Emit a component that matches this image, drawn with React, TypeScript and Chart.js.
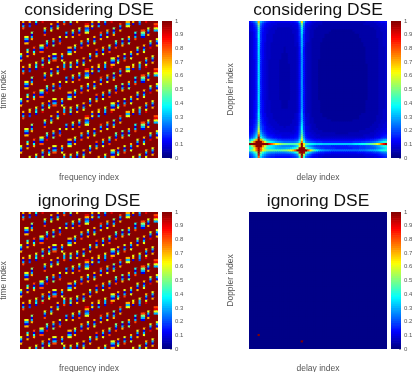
import React, { useEffect, useRef } from "react";
import { Chart, registerables } from "chart.js";

Chart.register(...registerables);

const GRID_SIZE = 64;

// Pilot stripes of the time/frequency grids: [column, first row, tenths read top to bottom].
const stripes: [number, number, string][] = [
  [1, 21, "7138"], [4, 20, "6712"], [7, 19, "6341"], [10, 17, "73159"], [14, 1, "7136"], [17, 21, "7136"], [20, 19, "6338"],
  [11, 3, "6318"], [5, 5, "5137"], [2, 7, "6317"], [3, 7, "6317"], [12, 9, "5319"], [15, 8, "7315"], [18, 7, "6128"], [21, 5, "316"],
  [9, 11, "6318"], [10, 11, "6318"], [6, 12, "8147"], [3, 13, "4617"], [0, 15, "6317"], [15, 15, "6138"], [16, 15, "6138"], [19, 15, "7316"], [13, 16, "7136"],
  [24, 4, "6317"], [27, 3, "6318"], [31, 8, "6317"], [34, 7, "7136"], [37, 5, "8317"], [40, 4, "7316"], [43, 3, "5137"], [28, 9, "7318"],
  [25, 11, "6317"], [22, 12, "7136"], [23, 12, "7136"], [32, 15, "6317"], [35, 13, "8137"], [38, 12, "7316"], [41, 11, "6318"], [29, 17, "7136"],
  [26, 18, "6317"], [23, 19, "6351"], [42, 17, "63179"], [43, 17, "6317"], [39, 19, "6331"], [36, 20, "7613"], [33, 21, "7261"], [30, 1, "97236"], [31, 1, "97236"],
  [49, 21, "736"], [50, 21, "736"], [46, 1, "8317"], [52, 20, "671"], [55, 19, "6332"], [58, 17, "73169"], [62, 1, "8963"], [63, 1, "8963"],
  [47, 8, "5137"], [50, 7, "7315"], [53, 5, "4138"], [56, 4, "8531"], [57, 4, "8531"], [59, 3, "6317"], [44, 9, "5318"], [63, 8, "6317"],
  [60, 9, "6319"], [57, 11, "7136"], [54, 12, "6317"], [51, 14, "7316"], [48, 15, "6138"], [45, 16, "7136"], [61, 16, "6317"],
];
// The stripe pattern recurs down the grid at these row offsets.
const stripeRowOffsets = [-21, 0, 21, 43];

// Line profiles of the two crosses in the delay/Doppler map (value along each line).
const crossPeakA = 6;
const crossPeakB = 4.5;
const delayProfileA = [
  0.95, 1.2, 1.7, 2.4, 6, 2.4, 1.7, 1.3, 0.95, 0.82, 0.74, 0.66, 0.58, 0.52, 0.47, 0.43,
  0.4, 0.38, 0.36, 0.35, 0.34, 0.33, 0.32, 0.31, 0.3, 0.3, 0.3, 0.3, 0.29, 0.29, 0.29, 0.29,
  0.29, 0.29, 0.29, 0.29, 0.29, 0.29, 0.29, 0.29, 0.29, 0.29, 0.29, 0.29, 0.29, 0.29, 0.3, 0.3,
  0.31, 0.32, 0.33, 0.34, 0.35, 0.36, 0.38, 0.4, 0.43, 0.46, 0.5, 0.57, 0.65, 0.75, 0.85, 0.92,
];
const dopplerProfileA = [
  0.65, 0.5, 0.44, 0.4, 0.38, 0.37, 0.36, 0.36, 0.35, 0.35, 0.35, 0.35, 0.34, 0.34, 0.34, 0.34,
  0.34, 0.34, 0.33, 0.33, 0.33, 0.33, 0.33, 0.33, 0.33, 0.33, 0.33, 0.33, 0.33, 0.33, 0.33, 0.33,
  0.33, 0.33, 0.33, 0.33, 0.33, 0.34, 0.34, 0.34, 0.34, 0.35, 0.35, 0.36, 0.37, 0.38, 0.4, 0.42,
  0.44, 0.48, 0.52, 0.58, 0.66, 0.78, 0.95, 1.7, 2.6, 6, 2.4, 1.7, 1.3, 1.0, 0.85, 0.72,
];
const delayProfileB = [
  0.24, 0.24, 0.25, 0.25, 0.26, 0.26, 0.27, 0.28, 0.29, 0.3, 0.31, 0.32, 0.33, 0.34, 0.36, 0.38,
  0.4, 0.43, 0.47, 0.52, 0.6, 0.72, 0.95, 2.0, 4.5, 2.0, 0.95, 0.72, 0.58, 0.45, 0.36, 0.3,
  0.26, 0.23, 0.21, 0.2, 0.19, 0.18, 0.17, 0.17, 0.16, 0.16, 0.16, 0.16, 0.16, 0.16, 0.16, 0.16,
  0.16, 0.16, 0.16, 0.17, 0.17, 0.17, 0.18, 0.18, 0.19, 0.19, 0.2, 0.2, 0.21, 0.22, 0.22, 0.23,
];
const dopplerProfileB = [
  0.62, 0.46, 0.4, 0.36, 0.34, 0.33, 0.31, 0.3, 0.29, 0.29, 0.28, 0.28, 0.27, 0.27, 0.27, 0.26,
  0.26, 0.26, 0.26, 0.26, 0.25, 0.25, 0.25, 0.25, 0.25, 0.25, 0.25, 0.25, 0.25, 0.25, 0.25, 0.25,
  0.25, 0.25, 0.25, 0.25, 0.25, 0.26, 0.26, 0.26, 0.26, 0.27, 0.27, 0.28, 0.28, 0.29, 0.3, 0.31,
  0.33, 0.34, 0.36, 0.38, 0.4, 0.43, 0.47, 0.53, 0.62, 0.78, 1.05, 2.0, 4.5, 2.0, 1.15, 0.9,
];
// Isolated unit cells of the "ignoring" delay/Doppler map: [column, row].
const ignoringPeaks = [[4, 57], [24, 60]];

const colorbarTicks = [0, 0.1, 0.2, 0.3, 0.4, 0.5, 0.6, 0.7, 0.8, 0.9, 1];

const titles = ["considering DSE", "considering DSE", "ignoring DSE", "ignoring DSE"];
const xTitles = ["frequency index", "delay index", "frequency index", "delay index"];
const yTitles = ["time index", "Doppler index", "time index", "Doppler index"];

type Cell = { x: number; y: number; v: number };

function jet(v: number): string {
  const q = (Math.min(63, Math.floor(v * 64)) + 0.5) / 64;
  const ch = (c: number) => Math.round(255 * Math.max(0, Math.min(1, 1.5 - Math.abs(4 * q - c))));
  return `rgb(${ch(3)},${ch(2)},${ch(1)})`;
}

function cells(value: (col: number, row: number) => number): Cell[] {
  const out: Cell[] = [];
  for (let row = 0; row < GRID_SIZE; row++) {
    for (let col = 0; col < GRID_SIZE; col++) out.push({ x: col, y: row, v: value(col, row) });
  }
  return out;
}

function pilotCells(): Cell[] {
  const table = new Map<string, number>();
  for (const off of stripeRowOffsets) {
    for (const [col, row, tenths] of stripes) {
      [...tenths].forEach((d, i) => table.set(`${col},${row + off + i}`, Number(d) / 10));
    }
  }
  return cells((c, r) => table.get(`${c},${r}`) ?? 1);
}

function crossCells(): Cell[] {
  return cells((c, r) =>
    Math.min(1, (delayProfileA[c] * dopplerProfileA[r]) / crossPeakA + (delayProfileB[c] * dopplerProfileB[r]) / crossPeakB),
  );
}

function peakCells(): Cell[] {
  return cells((c, r) => (ignoringPeaks.some(([pc, pr]) => pc === c && pr === r) ? 1 : 0));
}

const FONT = "'Liberation Sans', Arial, sans-serif";
const PANEL_W = [178, 186];
const PANEL_X = [0, 225];
const PANEL_Y = [0, 191];
const PLOT_LEFT = [20, 24];
const BAR_X = [160, 389];
const CANVAS_H = 186;
// Overlapping square markers draw on top of each other, so the axes are nudged by the overlap.
const AXIS_MIN = -0.73;
const AXIS_MAX = 63.27;

function makeHeatmap(canvas: HTMLCanvasElement, idx: number, data: Cell[], colIdx: number): Chart {
  return new Chart(canvas, {
    type: "scatter",
    data: {
      datasets: [
        {
          data: data as any,
          pointStyle: "rect",
          pointRadius: 2.25,
          pointBorderWidth: 0,
          pointBackgroundColor: (ctx: any) => jet(ctx.raw.v),
        },
      ],
    },
    options: {
      animation: false,
      responsive: false,
      events: [],
      layout: { padding: { left: 0, right: PANEL_W[colIdx] - PLOT_LEFT[colIdx] - 138, top: 0, bottom: 0 } },
      plugins: {
        legend: { display: false },
        tooltip: { enabled: false },
        title: {
          display: true,
          fullSize: false,
          text: titles[idx],
          color: "#111",
          padding: 0,
          font: { family: FONT, size: 17.4, weight: "normal", lineHeight: 21 / 17.4 },
        },
      },
      scales: {
        x: {
          type: "linear",
          min: AXIS_MIN,
          max: AXIS_MAX,
          grid: { display: false },
          border: { display: false },
          ticks: { display: false },
          title: {
            display: true,
            text: xTitles[idx],
            color: "#555",
            padding: { top: 0, bottom: 3 },
            font: { family: FONT, size: 8.5 },
          },
          afterFit: (s: any) => {
            s.height = 28;
          },
        },
        y: {
          type: "linear",
          reverse: true,
          min: AXIS_MIN,
          max: AXIS_MAX,
          grid: { display: false },
          border: { display: false },
          ticks: { display: false },
          title: {
            display: true,
            text: yTitles[idx],
            color: "#555",
            padding: { top: colIdx === 0 ? -1 : 1, bottom: 0 },
            font: { family: FONT, size: 8.5 },
          },
          afterFit: (s: any) => {
            s.width = PLOT_LEFT[colIdx];
          },
        },
      },
    },
  } as any);
}

function makeColorbar(canvas: HTMLCanvasElement): Chart {
  const levels = Array.from({ length: GRID_SIZE }, (_, i) => i);
  return new Chart(canvas, {
    type: "bar",
    data: {
      labels: ["jet"],
      datasets: [
        ...levels.map((i) => ({
          data: [[i / GRID_SIZE, (i + 1) / GRID_SIZE]],
          backgroundColor: jet((i + 0.5) / GRID_SIZE),
          barPercentage: 1,
          categoryPercentage: 1,
          borderWidth: 0,
        })),
        {
          data: [[0, 1]],
          backgroundColor: "rgba(0,0,0,0)",
          borderColor: "#777",
          borderWidth: 1,
          borderSkipped: false,
          barPercentage: 1,
          categoryPercentage: 1,
        },
      ],
    },
    options: {
      animation: false,
      responsive: false,
      events: [],
      layout: { padding: { left: 2, right: 0, top: 21, bottom: 28 } },
      plugins: { legend: { display: false }, tooltip: { enabled: false } },
      scales: {
        x: { stacked: true, display: false },
        y: {
          position: "right",
          min: 0,
          max: 1,
          afterBuildTicks: (s: any) => {
            s.ticks = colorbarTicks.map((value) => ({ value }));
          },
          grid: { display: true, drawOnChartArea: false, drawTicks: true, tickLength: -2, color: "#555", lineWidth: 0.5 },
          border: { display: false },
          ticks: {
            color: "#555",
            padding: 5,
            font: { family: FONT, size: 6 },
            autoSkip: false,
            maxRotation: 0,
            callback: (v: any) => String(v),
          },
          afterFit: (s: any) => {
            s.width = 12;
          },
        },
      },
    },
  } as any);
}

export default function App() {
  const root = useRef<HTMLDivElement>(null);

  useEffect(() => {
    const host = root.current!;
    const charts: Chart[] = [];
    const pilot = pilotCells();
    const panelData = [pilot, crossCells(), pilot, peakCells()];
    panelData.forEach((data, idx) => {
      const colIdx = idx % 2;
      const rowIdx = idx >> 1;
      const c = document.createElement("canvas");
      c.width = PANEL_W[colIdx];
      c.height = CANVAS_H;
      c.style.cssText = `position:absolute;display:block;left:${PANEL_X[colIdx]}px;top:${PANEL_Y[rowIdx]}px;width:${PANEL_W[colIdx]}px;height:${CANVAS_H}px`;
      host.appendChild(c);
      charts.push(makeHeatmap(c, idx, data, colIdx));

      const b = document.createElement("canvas");
      b.width = 24;
      b.height = CANVAS_H;
      b.style.cssText = `position:absolute;display:block;left:${BAR_X[colIdx]}px;top:${PANEL_Y[rowIdx]}px;width:24px;height:${CANVAS_H}px`;
      host.appendChild(b);
      charts.push(makeColorbar(b));
    });
    return () => {
      charts.forEach((ch) => ch.destroy());
      host.innerHTML = "";
    };
  }, []);

  return (
    <div
      ref={root}
      style={{ position: "fixed", left: 0, top: 0, width: 412, height: 372, overflow: "hidden", background: "#fff" }}
    />
  );
}
